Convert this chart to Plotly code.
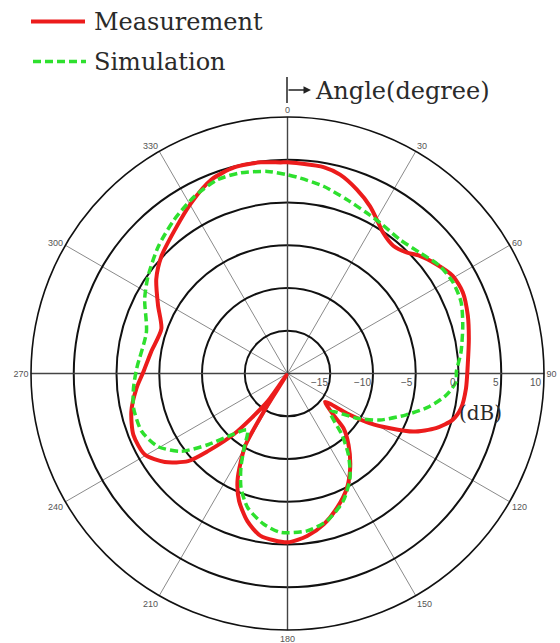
import plotly.graph_objects as go

# Radiation pattern, angle in degrees (clockwise from 0 at top), level in dB
meas_theta = [0, 3.5, 9.9, 14.8, 20.6, 26.3, 31.0, 34.2, 39.6, 44.5, 48.3, 53.7,
              59.4, 65.1, 72.2, 79.1, 87.4, 94.8, 101.3, 105.7, 110.2, 114.8,
              118.1, 121.1, 123.8, 127.0, 132.0, 134.3, 139.5, 146.4, 152.6,
              159.8, 166.5, 173.1, 180.0, 189.4, 195.2, 200.8, 204.9, 208.0,
              210.4, 212.0, 213.5, 215.5, 221.4, 225.7, 228.6, 234.2, 240.4,
              248.3, 256.3, 264.4, 270.7, 279.0, 289.5, 297.7, 305.7, 313.0,
              321.9, 330.5, 338.5, 345.5, 352.8, 358.1, 360]
meas_db = [4.7, 4.6, 4.5, 4.05, 3.0, 1.8, 0.6, -0.1, -0.6, -0.15, 0.7, 1.6,
           2.45, 2.6, 2.15, 1.6, 1.1, 0.95, 0.7, 0.05, -1.5, -3.8,
           -6.4, -8.7, -11.6, -14.5, -12.8, -10.85, -9.0, -6.75, -4.9,
           -3.25, -1.85, -0.85, -0.25, -0.75, -2.1, -4.05, -6.1, -8.4,
           -10.3, -15.0, -19.8, -16.0, -10.6, -7.0, -4.5, -2.3, -0.8,
           -0.6, -1.2, -2.25, -3.15, -3.85, -4.35, -2.9, -1.1, 0.15,
           1.35, 2.9, 4.35, 4.9, 4.9, 4.7, 4.7]

sim_theta = [0, 3.8, 10.9, 18.8, 26.2, 31.5, 40.0, 47.5, 54.7, 61.1, 67.7, 74.7,
             82.9, 89.4, 92.8, 97.7, 103.1, 109.2, 116.7, 122.8, 131.7, 138.4,
             143.1, 149.0, 156.3, 165.0, 172.9, 182.5, 188.9, 196.6, 202.2,
             206.3, 210.2, 215.4, 223.6, 228.2, 233.8, 240.6, 248.4, 257.3,
             264.5, 271.9, 286.4, 297.6, 305.0, 314.6, 323.7, 332.3, 340.2,
             346.9, 354.3, 360]
sim_db = [3.25, 2.9, 2.3, 1.5, 0.95, 0.7, 0.45, 0.95, 1.8, 2.1, 1.95, 1.25,
          0.45, -0.25, -0.25, -1.25, -2.95, -5.3, -7.9, -10.35, -13.3, -10.4,
          -8.15, -5.8, -3.75, -2.15, -1.45, -1.4, -2.15, -3.65, -5.6,
          -7.7, -9.9, -11.9, -9.8, -7.5, -4.6, -2.6, -1.65, -1.55,
          -1.9, -2.35, -2.8, -1.15, -0.1, 1.2, 2.35, 3.4, 4.1,
          4.1, 3.75, 3.25]

angle_ticks = list(range(0, 360, 30))
angle_labels = [str(a) for a in angle_ticks]
db_ticks = [-15, -10, -5, 0, 5, 10]
db_labels = [str(v).replace("-", "\u2212") for v in db_ticks]
db_range = [-20, 10]

W, H = 560, 643
RED = "#ec1c1c"
GREEN = "#2ee02e"
SERIF = "DejaVu Serif"
TXT = "#2a2a2a"

# polar area in pixels
PX_LEFT, PX_RIGHT, PX_TOP, PX_BOTTOM = 31, 544, 117, 630
CX = (PX_LEFT + PX_RIGHT) / 2
CY = (PX_TOP + PX_BOTTOM) / 2
RAD = (PX_RIGHT - PX_LEFT) / 2


def fx(p):
    return p / W


def fy(p):
    return 1 - p / H


fig = go.Figure()

# principal axes (0-180 and 90-270) drawn a little heavier than the spokes
for a in (0, 90):
    fig.add_trace(go.Scatterpolar(
        r=[db_range[1], db_range[0], db_range[1]], theta=[a, a, a + 180],
        mode="lines", line=dict(color="#444444", width=1.4),
        hoverinfo="skip", showlegend=False))

fig.add_trace(go.Scatterpolar(
    r=meas_db, theta=meas_theta, mode="lines", name="Measurement",
    line=dict(color=RED, width=4, shape="spline", smoothing=0.7),
    showlegend=False))

fig.add_trace(go.Scatterpolar(
    r=sim_db, theta=sim_theta, mode="lines", name="Simulation",
    line=dict(color=GREEN, width=3.5, dash="8px,4px", shape="spline", smoothing=0.7),
    showlegend=False))

fig.update_layout(
    width=W, height=H,
    margin=dict(l=0, r=0, t=0, b=0),
    paper_bgcolor="white",
    polar=dict(
        domain=dict(x=[fx(PX_LEFT), fx(PX_RIGHT)], y=[fy(PX_BOTTOM), fy(PX_TOP)]),
        bgcolor="white",
        angularaxis=dict(
            rotation=90, direction="clockwise",
            tickmode="array", tickvals=angle_ticks, ticktext=angle_labels,
            ticks="", showgrid=True, gridcolor="#8a8a8a", gridwidth=1,
            showline=True, linecolor="#111111", linewidth=1.6,
            tickfont=dict(family="Liberation Sans", size=9, color="#555555"),
        ),
        radialaxis=dict(
            range=db_range, angle=0,
            tickmode="array", tickvals=db_ticks,
            ticks="", showline=False, showgrid=True, showticklabels=False,
            gridcolor="#111111", gridwidth=1.5,
        ),
    ),
)

shapes = []
# legend keys
shapes.append(dict(type="line", xref="paper", yref="paper",
                   x0=fx(31), x1=fx(85), y0=fy(21.5), y1=fy(21.5),
                   line=dict(color=RED, width=4)))
shapes.append(dict(type="line", xref="paper", yref="paper",
                   x0=fx(33), x1=fx(86), y0=fy(61.5), y1=fy(61.5),
                   line=dict(color=GREEN, width=3.5, dash="8px,4px")))
# angle marker above the 0-degree direction
shapes.append(dict(type="line", xref="paper", yref="paper",
                   x0=fx(287), x1=fx(287), y0=fy(77), y1=fy(103),
                   line=dict(color="#222222", width=1.5)))
fig.update_layout(shapes=shapes)

annotations = [
    dict(text="Measurement", x=fx(92), y=fy(22), xref="paper", yref="paper",
         xanchor="left", yanchor="middle", showarrow=False,
         font=dict(family=SERIF, size=24, color=TXT)),
    dict(text="Simulation", x=fx(92), y=fy(62), xref="paper", yref="paper",
         xanchor="left", yanchor="middle", showarrow=False,
         font=dict(family=SERIF, size=24, color=TXT)),
    dict(text="Angle(degree)", x=fx(313), y=fy(91), xref="paper", yref="paper",
         xanchor="left", yanchor="middle", showarrow=False,
         font=dict(family=SERIF, size=24, color=TXT)),
    dict(text="", x=fx(311), y=fy(90), ax=-24, ay=0,
         xref="paper", yref="paper", axref="pixel", ayref="pixel",
         showarrow=True, arrowhead=2, arrowsize=1, arrowwidth=1.5,
         arrowcolor="#222222"),
    dict(text="(dB)", x=fx(481), y=fy(413), xref="paper", yref="paper",
         xanchor="center", yanchor="middle", showarrow=False,
         font=dict(family=SERIF, size=20, color=TXT)),
]

# level labels sit just inside each ring, below the 90-degree axis
for v, lab in zip(db_ticks, db_labels):
    ring_x = CX + (v - db_range[0]) / (db_range[1] - db_range[0]) * RAD
    annotations.append(dict(
        text=lab, x=fx(ring_x - 1.5), y=fy(CY + 9), xref="paper", yref="paper",
        xanchor="right", yanchor="middle", showarrow=False, borderpad=0,
        font=dict(family="Liberation Sans", size=10, color="#555555")))

fig.update_layout(annotations=annotations)

fig.write_html("out.html")
